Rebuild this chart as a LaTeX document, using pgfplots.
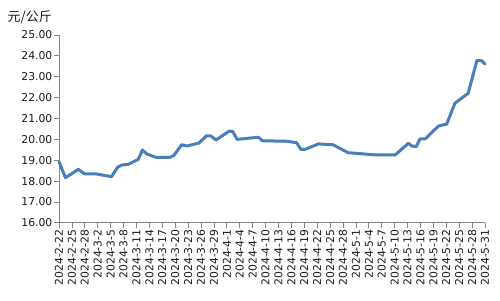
\documentclass[border=0pt]{standalone}
\usepackage{fontspec}
\setmainfont{DejaVu Sans}
\newfontfamily\cjk{Noto Sans CJK SC}
\usepackage{pgfplots}
\pgfplotsset{compat=1.18}
\definecolor{linecol}{HTML}{4A7EBB}
\definecolor{axiscol}{HTML}{868686}
\definecolor{txtcol}{HTML}{1A1A1A}

\pgfplotstableread{
day price
0    18.93
1.5  18.16
4.5  18.56
5.9  18.35
8.4  18.35
12.2 18.21
13.6 18.66
14.6 18.77
16.1 18.80
18.4 19.04
19.4 19.49
20.4 19.30
22.5 19.14
25.8 19.14
26.7 19.23
28.5 19.74
29.7 19.68
32.5 19.82
34.3 20.17
35.3 20.16
36.5 19.97
39.6 20.40
40.4 20.37
41.4 20.00
46.3 20.10
47.3 19.93
52.9 19.91
55.2 19.84
56.2 19.52
57.2 19.52
60.3 19.78
63.7 19.74
67.2 19.36
73.8 19.25
78.1 19.25
81.2 19.81
82.0 19.68
83.0 19.65
83.9 20.02
85.1 20.02
88.2 20.64
90.1 20.73
92.0 21.73
95.1 22.21
97.1 23.77
98.2 23.77
99   23.61
}\pricedata

\begin{document}
\begin{tikzpicture}[x=1pt,y=1pt]
\useasboundingbox (0,0) rectangle (500,-300);
\node[anchor=east, font=\cjk\fontsize{13}{15}\selectfont, text=txtcol, inner sep=0pt] at (52,-17) {元/公斤};
\begin{axis}[
    at={(59pt,-222.8pt)}, anchor=origin,
    scale only axis,
    width=426pt, height=187.8pt,
    xmin=0, xmax=99,
    ymin=16, ymax=25,
    axis x line*=bottom, axis y line*=left,
    axis line style={axiscol, line width=0.8pt, -},
    xtick={0,3,...,99},
    xticklabels={2024-2-22,2024-2-25,2024-2-28,2024-3-2,2024-3-5,2024-3-8,2024-3-11,2024-3-14,2024-3-17,2024-3-20,2024-3-23,2024-3-26,2024-3-29,2024-4-1,2024-4-4,2024-4-7,2024-4-10,2024-4-13,2024-4-16,2024-4-19,2024-4-22,2024-4-25,2024-4-28,2024-5-1,2024-5-4,2024-5-7,2024-5-10,2024-5-13,2024-5-16,2024-5-19,2024-5-22,2024-5-25,2024-5-28,2024-5-31},
    ytick={16,17,...,25},
    tick align=outside,
    major tick length=5pt,
    tick style={axiscol, line width=0.8pt},
    xticklabel style={rotate=90, anchor=east, font=\fontsize{10.8}{12}\selectfont, text=txtcol, inner sep=1.5pt},
    yticklabel style={font=\fontsize{10.8}{12}\selectfont, text=txtcol, inner sep=1.5pt,
        /pgf/number format/.cd, fixed, fixed zerofill, precision=2},
    /pgf/number format/assume math mode=true,
    clip=false,
]
\addplot[linecol, line width=3pt, line join=round, line cap=round] table[x=day, y=price] {\pricedata};
\end{axis}
\end{tikzpicture}
\end{document}
